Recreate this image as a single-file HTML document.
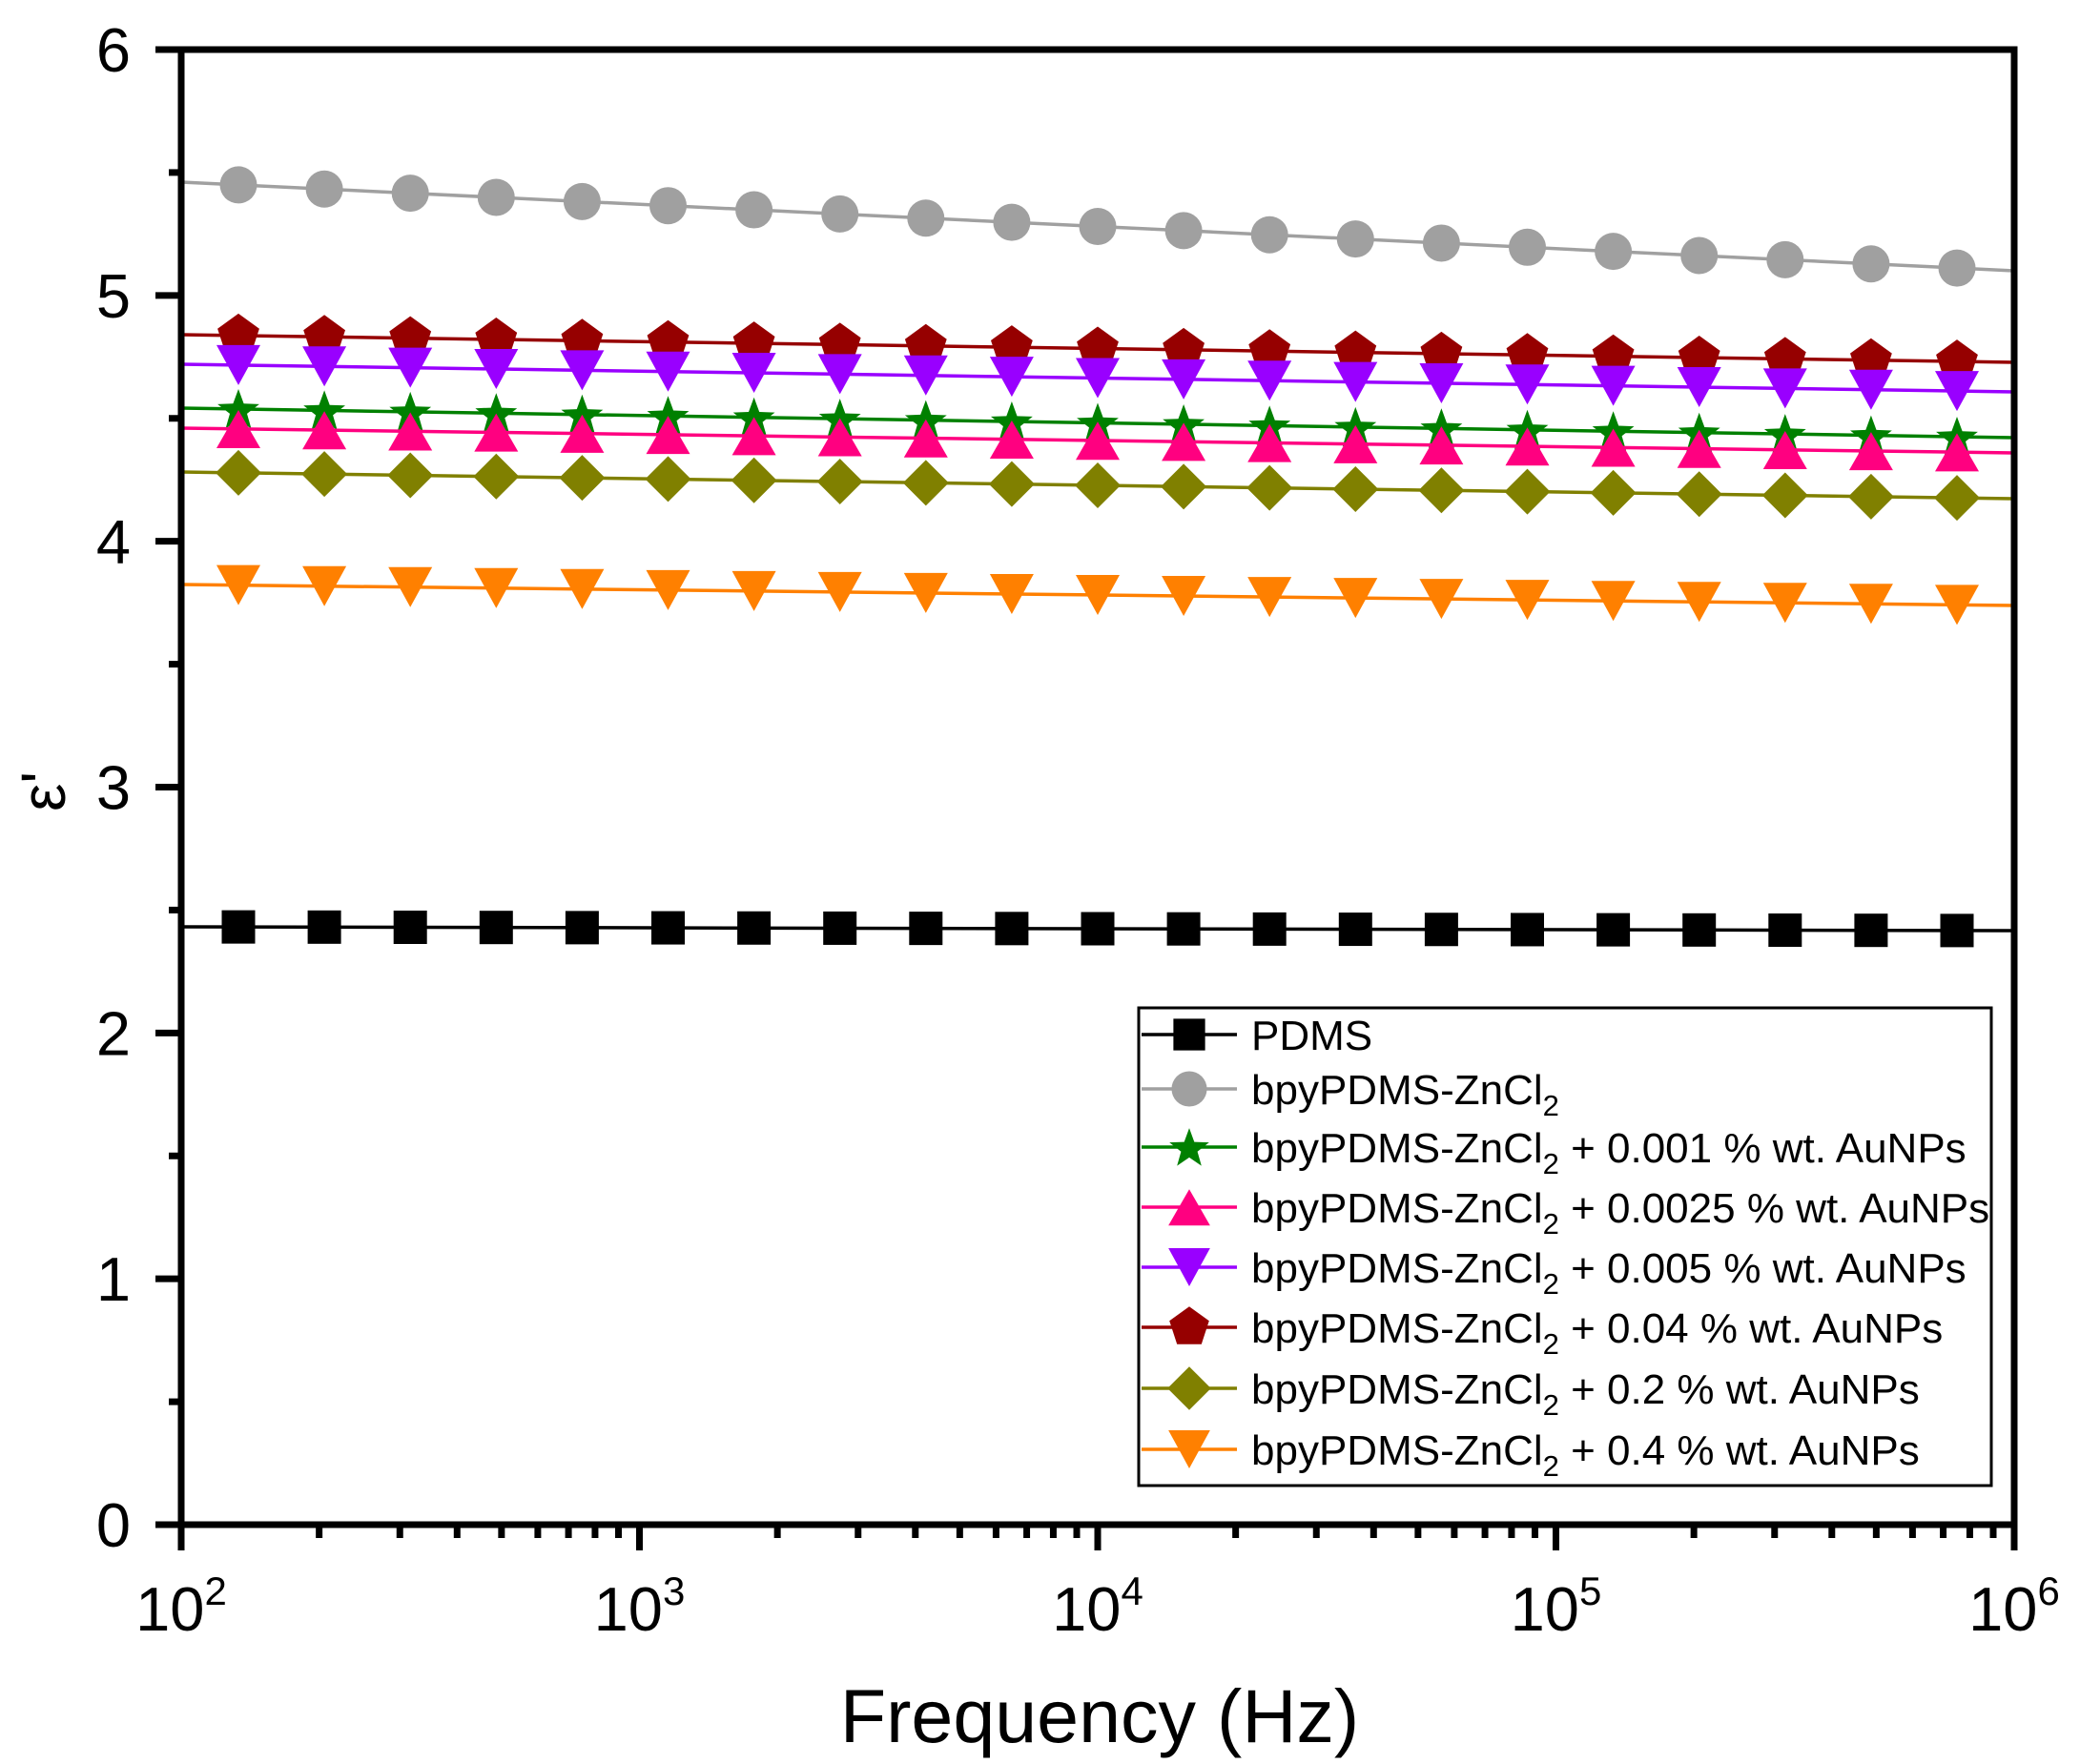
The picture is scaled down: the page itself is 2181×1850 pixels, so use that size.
<!DOCTYPE html>
<html><head><meta charset="utf-8"><style>
html,body{margin:0;padding:0;background:#fff;}
svg{display:block;font-family:"Liberation Sans",Arial,sans-serif;}
</style></head><body>
<svg id="s" width="2181" height="1850" viewBox="0 0 2181 1850" xmlns="http://www.w3.org/2000/svg">
<rect width="2181" height="1850" fill="#fff"/>
<g id="plot"></g>
<g id="axes" stroke="#000" stroke-width="7" fill="none"></g>
<g id="lbl" fill="#000"></g>
<text x="1153" y="1827" font-size="79" text-anchor="middle">Frequency (Hz)</text>
<text transform="translate(68,830) rotate(-90)" font-size="66" text-anchor="middle">ε'</text>
<g id="leg"></g>
</svg>
<script>
const NS="http://www.w3.org/2000/svg";
function el(p,t,a,txt){const e=document.createElementNS(NS,t);for(const k in a)e.setAttribute(k,a[k]);if(txt!==undefined)e.textContent=txt;p.appendChild(e);return e;}
const X0=190,X1=2112,Y6=52,Y0=1599,DEC=480.5;
const ux=d=>X0+(d-2)*DEC, uy=v=>Y0-(Y0-Y6)*v/6;
const axes=document.getElementById('axes'),lbl=document.getElementById('lbl'),plot=document.getElementById('plot'),leg=document.getElementById('leg');
el(axes,'rect',{x:X0,y:Y6,width:X1-X0,height:Y0-Y6,'stroke-linecap':'square'});
for(let v=0;v<=6;v+=0.5){const y=uy(v);const maj=Math.abs(v-Math.round(v))<1e-6;
 el(axes,'line',{x1:X0,x2:X0-(maj?27:13),y1:y,y2:y});
 if(maj) el(lbl,'text',{x:137,y:y+23,'font-size':65,'text-anchor':'end'},String(v));}
for(let d=2;d<=6;d++){const x=ux(d);el(axes,'line',{x1:x,x2:x,y1:Y0,y2:Y0+27});
 const t=el(lbl,'text',{x:x,y:1710,'font-size':65,'text-anchor':'middle'});
 el(t,'tspan',{},'10');el(t,'tspan',{'font-size':42,dy:-27},String(d));
 if(d<6)for(let m=2;m<=9;m++){const xm=ux(d+Math.log10(m));el(axes,'line',{x1:xm,x2:xm,y1:Y0,y2:Y0+14});}}
function marker(g,type,cx,cy,col,s){
 s=s||1;
 if(type==='sq'){el(g,'rect',{x:cx-17.5*s,y:cy-17.5*s,width:35*s,height:35*s,fill:col});}
 else if(type==='ci'){el(g,'circle',{cx:cx,cy:cy,r:19.5*s,fill:col});}
 else if(type==='up'){const w=23*s,h=40*s,c=cy+5*s;el(g,'polygon',{points:`${cx},${c-h*0.62} ${cx-w},${c+h*0.38} ${cx+w},${c+h*0.38}`,fill:col});}
 else if(type==='dn'){const w=23*s,h=42*s;el(g,'polygon',{points:`${cx-w},${cy-h/2} ${cx+w},${cy-h/2} ${cx},${cy+h/2}`,fill:col});}
 else if(type==='di'){const w=24*s,h=24*s;el(g,'polygon',{points:`${cx},${cy-h} ${cx+w},${cy} ${cx},${cy+h} ${cx-w},${cy}`,fill:col});}
 else if(type==='pe'){const r=23*s;let p=[];for(let i=0;i<5;i++){const a=-Math.PI/2+i*2*Math.PI/5;p.push((cx+r*Math.cos(a)).toFixed(1)+','+(cy+r*Math.sin(a)).toFixed(1));}el(g,'polygon',{points:p.join(' '),fill:col});}
 else if(type==='st'){const R=23*s,r=9.5*s;let p=[];for(let i=0;i<10;i++){const a=-Math.PI/2+i*Math.PI/5,rr=i%2?r:R;p.push((cx+rr*Math.cos(a)).toFixed(1)+','+(cy+2*s+rr*Math.sin(a)).toFixed(1));}el(g,'polygon',{points:p.join(' '),fill:col});}
}
const series=[
 {t:'sq',c:'#000000',yl:972,yr:976,lab:'PDMS'},
 {t:'ci',c:'#a0a0a0',yl:191,yr:284,lab:'sub',suf:''},
 {t:'pe',c:'#960000',yl:351,yr:380,lab:'sub',suf:' + 0.04 % wt. AuNPs'},
 {t:'st',c:'#008000',yl:428,yr:459,lab:'sub',suf:' + 0.001 % wt. AuNPs'},
 {t:'up',c:'#ff0080',yl:449,yr:475,lab:'sub',suf:' + 0.0025 % wt. AuNPs'},
 {t:'dn',c:'#9900ff',yl:382,yr:411,lab:'sub',suf:' + 0.005 % wt. AuNPs'},
 {t:'di',c:'#808000',yl:495,yr:523,lab:'sub',suf:' + 0.2 % wt. AuNPs'},
 {t:'dn',c:'#ff8000',yl:613,yr:635,lab:'sub',suf:' + 0.4 % wt. AuNPs'},
];
for(const s of series){
 el(plot,'line',{x1:X0,y1:s.yl,x2:X1,y2:s.yr,stroke:s.c,'stroke-width':3.5});
 for(let i=0;i<21;i++){const x=250+i*90.1;const y=s.yl+(s.yr-s.yl)*(x-X0)/(X1-X0);marker(plot,s.t,x,y,s.c);}
}
el(leg,'rect',{x:1194,y:1057,width:894,height:501,fill:'#fff',stroke:'#000','stroke-width':3});
const order=[0,1,3,4,5,2,6,7];const rows=[1085,1142,1203,1266,1329,1392,1456,1520];
order.forEach((k,i)=>{const s=series[k],y=rows[i];
 el(leg,'line',{x1:1197,x2:1297,y1:y,y2:y,stroke:s.c,'stroke-width':3.5});
 marker(leg,s.t,1247,y,s.c,0.95);
 const t=el(leg,'text',{x:1312,y:y+16,'font-size':44});
 if(s.lab==='PDMS'){t.textContent='PDMS';}
 else{el(t,'tspan',{},'bpyPDMS-ZnCl');el(t,'tspan',{'font-size':31,dy:12},'2');if(s.suf)el(t,'tspan',{dy:-12},s.suf);}
});
</script>
</body></html>
